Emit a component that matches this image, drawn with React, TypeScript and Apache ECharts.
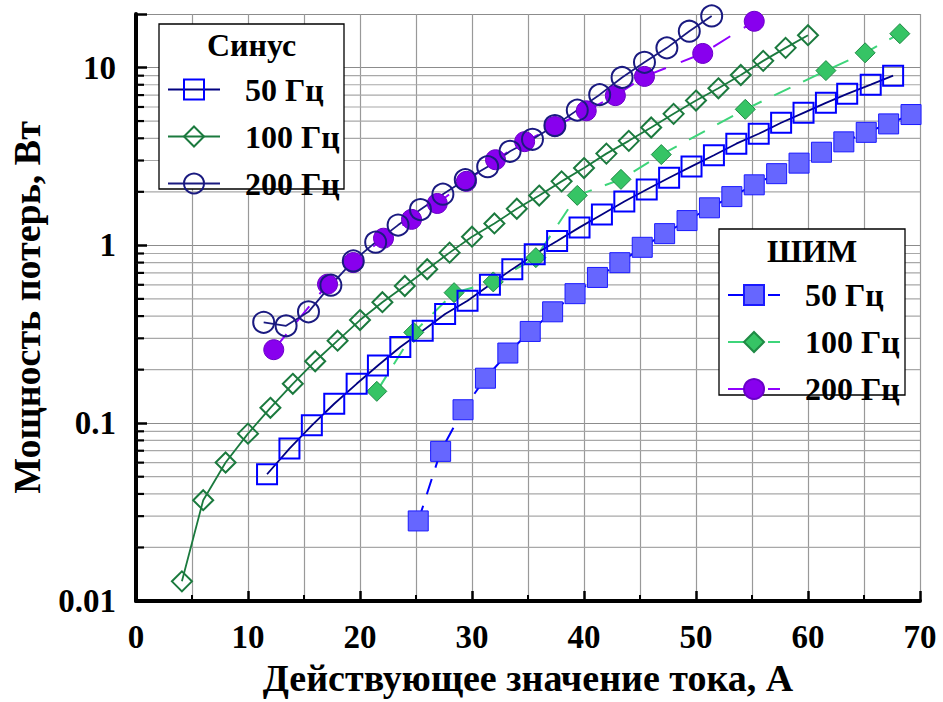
import React, { useEffect, useRef } from 'react';
import * as echarts from 'echarts';

// ---------- data ----------
const sin50X = [11.7, 13.7, 15.7, 17.7, 19.7, 21.6, 23.6, 25.6, 27.6, 29.6, 31.6, 33.6, 35.6, 37.6, 39.6, 41.6, 43.6, 45.6, 47.6, 49.6, 51.6, 53.6, 55.6, 57.6, 59.6, 61.6, 63.5, 65.6, 67.6];
const sin50Y = [0.0516, 0.072, 0.0972, 0.1286, 0.1665, 0.211, 0.268, 0.331, 0.411, 0.488, 0.6, 0.735, 0.891, 1.057, 1.262, 1.492, 1.764, 2.06, 2.4, 2.78, 3.21, 3.73, 4.24, 4.89, 5.56, 6.33, 7.11, 8.01, 9.0];

const sin100X = [4.1, 6, 8, 10, 12, 14, 16, 18, 20, 22, 24, 26, 28, 30, 32, 34, 36, 38, 40, 42, 44, 46, 48, 50, 52, 54, 56, 58, 60];
const sin100Y = [0.0129, 0.0369, 0.0601, 0.0873, 0.122, 0.1665, 0.223, 0.291, 0.38, 0.479, 0.591, 0.734, 0.91, 1.119, 1.328, 1.606, 1.905, 2.29, 2.72, 3.28, 3.87, 4.6, 5.49, 6.52, 7.64, 9.08, 10.9, 12.9, 15.2];

const sin200X = [11.4, 13.4, 15.4, 17.4, 19.4, 21.4, 23.4, 25.4, 27.4, 29.4, 31.4, 33.4, 35.4, 37.4, 39.4, 41.4, 43.4, 45.4, 47.4, 49.4, 51.4];
const sin200Y = [0.369, 0.353, 0.423, 0.597, 0.817, 1.042, 1.3, 1.59, 1.94, 2.34, 2.77, 3.38, 3.95, 4.72, 5.76, 7.04, 8.79, 10.7, 12.9, 16.0, 19.5];

const pwm50X = [25.2, 27.2, 29.2, 31.2, 33.2, 35.2, 37.2, 39.2, 41.2, 43.2, 45.2, 47.2, 49.2, 51.2, 53.2, 55.2, 57.2, 59.2, 61.2, 63.2, 65.2, 67.2, 69.2];
const pwm50Y = [0.0282, 0.0694, 0.119, 0.179, 0.248, 0.328, 0.423, 0.535, 0.66, 0.799, 0.975, 1.164, 1.378, 1.626, 1.88, 2.19, 2.53, 2.9, 3.34, 3.82, 4.32, 4.82, 5.44];

const pwm100X = [21.5, 24.8, 28.4, 31.9, 35.7, 39.4, 43.3, 46.9, 54.4, 61.6, 65.1, 68.2];
const pwm100Y = [0.151, 0.324, 0.542, 0.623, 0.853, 1.91, 2.35, 3.24, 5.82, 9.61, 12.1, 15.5];

const pwm200X = [12.3, 17.1, 19.4, 22.1, 24.6, 26.9, 29.5, 32.1, 34.7, 37.4, 40.2, 42.8, 45.4, 50.6, 55.2];
const pwm200Y = [0.259, 0.605, 0.8, 1.097, 1.4, 1.72, 2.29, 3.03, 3.83, 4.66, 5.71, 6.95, 8.91, 12.0, 18.2];

const yMajorValues = [0.01, 0.1, 1, 10];
const yTickLabels = ['0.01', '0.1', '1', '10'];
const yMinorValues = [0.02, 0.03, 0.04, 0.05, 0.06, 0.07, 0.08, 0.09, 0.2, 0.3, 0.4, 0.5, 0.6, 0.7, 0.8, 0.9, 2, 3, 4, 5, 6, 7, 8, 9];

const legendLabels: Record<string, string> = {
  sin50: '50 Гц', sin100: '100 Гц', sin200: '200 Гц',
  pwm50: '50 Гц', pwm100: '100 Гц', pwm200: '200 Гц',
};
const sinTitle = 'Синус';
const pwmTitle = 'ШИМ';
const xAxisTitle = 'Действующее значение тока, А';
const yAxisTitle = 'Мощность потерь, Вт';

const X_MIN = 0, X_MAX = 70, Y_MIN = 0.01, Y_MAX = 20;

// ---------- helpers ----------
const zip = (xs: number[], ys: number[]) => xs.map((x, i) => [x, ys[i]]);
const FONT = '"Liberation Serif", "Times New Roman", serif';

export default function App() {
  const ref = useRef<HTMLDivElement>(null);
  useEffect(() => {
    const chart = echarts.init(ref.current!, null, { renderer: 'svg' });
    const textBase = { fontFamily: FONT, fontWeight: 'bold' as const, color: '#000' };
    const option: any = {
      animation: false,
      backgroundColor: '#fff',
      grid: { left: 136, right: 23, top: 14, bottom: 99, containLabel: false },
      xAxis: {
        type: 'value', min: X_MIN, max: X_MAX, interval: 10,
        name: xAxisTitle, nameLocation: 'middle', nameGap: 58,
        nameTextStyle: { ...textBase, fontSize: 38 },
        axisLine: { lineStyle: { color: '#000', width: 4 } },
        axisTick: { inside: true, length: 10, lineStyle: { color: '#000', width: 2.5 } },
        minorTick: { show: true, splitNumber: 2, length: 6, lineStyle: { color: '#000', width: 2 } },
        axisLabel: { ...textBase, fontSize: 33, margin: 19 },
        splitLine: { show: true, lineStyle: { color: '#999', width: 1.2 } },
        minorSplitLine: { show: true, lineStyle: { color: '#999', width: 1.2 } },
      },
      yAxis: {
        type: 'log', logBase: 10, min: Y_MIN, max: Y_MAX,
        name: yAxisTitle, nameLocation: 'middle', nameGap: 90,
        nameTextStyle: { ...textBase, fontSize: 38 },
        axisLine: { lineStyle: { color: '#000', width: 4 } },
        axisTick: { inside: true, length: 11, lineStyle: { color: '#000', width: 2.5 } },
        axisLabel: {
          ...textBase, fontSize: 33, margin: 20,
          formatter: (v: number) => {
            const i = yMajorValues.findIndex((m) => Math.abs(Math.log10(m) - Math.log10(v)) < 1e-6);
            return i >= 0 ? yTickLabels[i] : '';
          },
        },
        splitLine: { show: true, lineStyle: { color: '#8c8c8c', width: 1.2 } },
      },
      legend: [
        {
          data: ['sin50', 'sin100', 'sin200'],
          orient: 'vertical', left: 167, top: 73.5, padding: 0,
          itemWidth: 52, itemHeight: 25, itemGap: 15, selectedMode: false,
          formatter: (n: string) => legendLabels[n],
          textStyle: { ...textBase, fontSize: 32, lineHeight: 25, padding: [0, 0, 0, 20] },
        },
        {
          data: ['pwm50', 'pwm100', 'pwm200'],
          orient: 'vertical', left: 727, top: 279, padding: 0,
          itemWidth: 52, itemHeight: 25, itemGap: 15, selectedMode: false,
          formatter: (n: string) => legendLabels[n],
          lineStyle: { type: [28, 12] },
          textStyle: { ...textBase, fontSize: 32, lineHeight: 25, padding: [0, 0, 0, 20] },
        },
      ],
      graphic: [
        { type: 'rect', z: 3, shape: { x: 159, y: 24, width: 185, height: 165 }, style: { fill: '#fff', stroke: '#000', lineWidth: 1.3 } },
        { type: 'text', z: 3, x: 251.5, y: 45, style: { text: sinTitle, font: `bold 32px ${FONT}`, fill: '#000', textAlign: 'center', textVerticalAlign: 'middle' } },
        { type: 'rect', z: 3, shape: { x: 719, y: 229, width: 186, height: 166 }, style: { fill: '#fff', stroke: '#000', lineWidth: 1.3 } },
        { type: 'text', z: 3, x: 812, y: 251, style: { text: pwmTitle, font: `bold 32px ${FONT}`, fill: '#000', textAlign: 'center', textVerticalAlign: 'middle' } },
      ],
      series: [
        {
          type: 'custom', name: 'minorGrid', silent: true, z: 1, clip: false,
          data: yMinorValues.map((v) => [X_MIN, v]),
          encode: { x: 0, y: 1 },
          renderItem: (_p: any, api: any) => {
            const v = api.value(1);
            const a = api.coord([X_MIN, v]);
            const b = api.coord([X_MAX, v]);
            return {
              type: 'group',
              children: [
                { type: 'line', shape: { x1: a[0], y1: a[1], x2: b[0], y2: b[1] }, style: { stroke: '#a8a8a8', lineWidth: 1.2 } },
                { type: 'line', shape: { x1: a[0], y1: a[1], x2: a[0] + 8, y2: a[1] }, style: { stroke: '#000', lineWidth: 2.2 } },
              ],
            };
          },
        },
        {
          name: 'pwm50', type: 'line', data: zip(pwm50X, pwm50Y),
          symbol: 'rect', symbolSize: 20,
          itemStyle: { color: '#6666ff', borderColor: '#1a1aff', borderWidth: 1 },
          lineStyle: { color: '#0000ff', width: 2, type: [16, 12] },
        },
        {
          name: 'pwm100', type: 'line', data: zip(pwm100X, pwm100Y),
          symbol: 'diamond', symbolSize: 20,
          itemStyle: { color: '#36c465', borderColor: '#1f8a45', borderWidth: 1 },
          lineStyle: { color: '#3ed57a', width: 2, type: [18, 14] },
        },
        {
          name: 'pwm200', type: 'line', data: zip(pwm200X, pwm200Y),
          symbol: 'circle', symbolSize: 20,
          itemStyle: { color: '#8800ee', borderColor: '#6a00c8', borderWidth: 1 },
          lineStyle: { color: '#9000ff', width: 2, type: [20, 16] },
        },
        {
          name: 'sin50', type: 'line', data: zip(sin50X, sin50Y),
          symbol: 'rect', symbolSize: 20,
          itemStyle: { color: 'transparent', borderColor: '#0000ff', borderWidth: 2 },
          lineStyle: { color: '#000080', width: 1.8 },
        },
        {
          name: 'sin100', type: 'line', data: zip(sin100X, sin100Y),
          symbol: 'diamond', symbolSize: 20,
          itemStyle: { color: 'transparent', borderColor: '#1b7a3e', borderWidth: 2 },
          lineStyle: { color: '#1b7a3e', width: 1.8 },
        },
        {
          name: 'sin200', type: 'line', data: zip(sin200X, sin200Y),
          symbol: 'circle', symbolSize: 21,
          itemStyle: { color: 'transparent', borderColor: '#1a1a80', borderWidth: 2 },
          lineStyle: { color: '#1a1a80', width: 1.8 },
        },
      ],
    };
    chart.setOption(option);
    return () => chart.dispose();
  }, []);
  return <div ref={ref} style={{ position: 'absolute', left: 0, top: 0, width: 943, height: 702 }} />;
}
